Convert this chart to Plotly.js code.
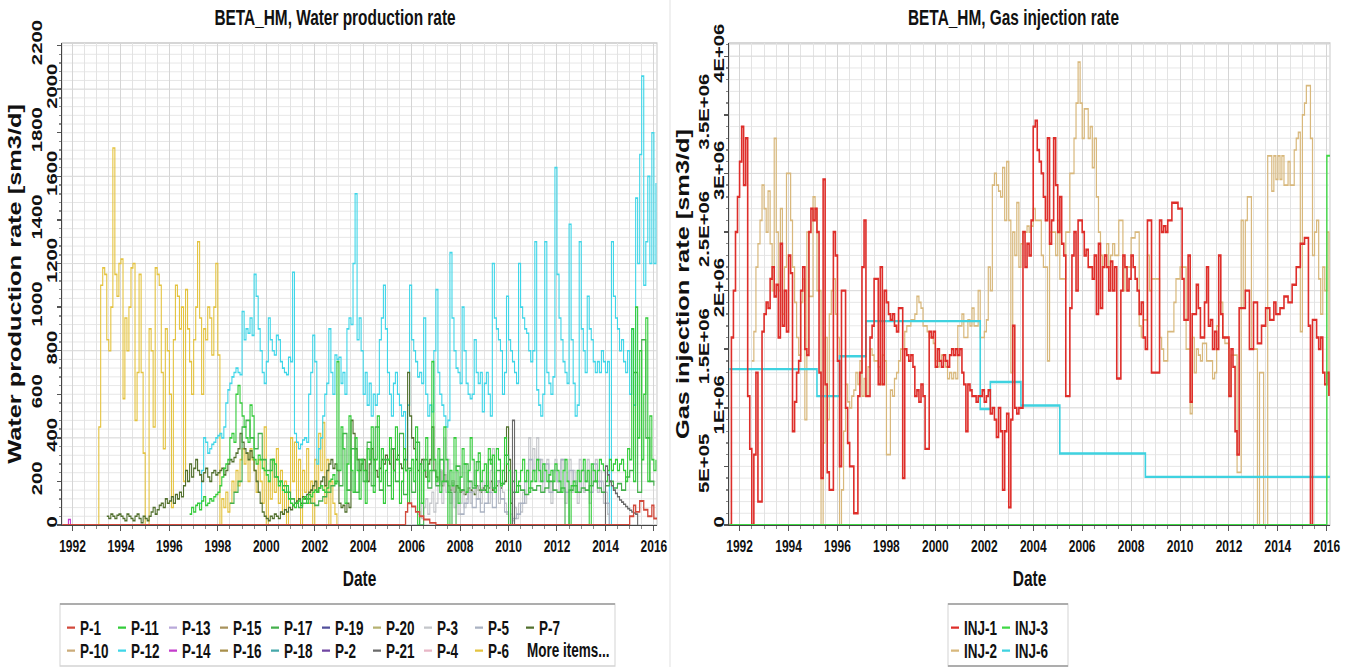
<!DOCTYPE html>
<html>
<head>
<meta charset="utf-8">
<script src="https://cdn.plot.ly/plotly-3.0.1.min.js"></script>
<style>
  html { margin: 0; padding: 0; background: #fff; overflow: hidden; }
  body { margin: 0; padding: 0; background: #fff; width: 1358px; height: 667px; }
  /* the figure is laid out at 480 px height and stretched vertically by 1.45 */
  #chart { width: 1358px; height: 480px; transform: scaleY(1.45); transform-origin: 0 0; }
</style>
</head>
<body>
<div id="chart"></div>
<script>
// ---------------------------------------------------------------------------
// Water production rate per well, sm3/d (monthly steps unless dated)
// ---------------------------------------------------------------------------
const p6Start = [1993, 1];
const p6 = [
  0, 450, 1100, 1180, 1150, 850, 800, 1000, 1730, 1150, 1050, 1200,
  1220, 580, 950, 800, 1000, 1180, 1200, 480, 700, 1150, 700, 330,
  0, 0, 900, 800, 450, 1180, 1150, 1100, 700, 350, 900, 800,
  600, 80, 850, 1100, 1050, 900, 1000, 200, 1080, 900, 750, 600,
  850, 1000, 1300, 950, 600, 900, 850, 1000, 950, 780, 1000, 1200,
  780, 0, 120, 80, 150, 60, 100, 200, 150, 250, 180, 300,
  350, 280, 330, 200, 350, 300, 250, 150, 300, 200, 100, 450,
  0, 200, 120, 300, 150, 350, 100, 250, 50, 200, 0, 150,
  400, 200, 380, 100, 300, 0, 250, 150, 350, 100, 200, 0,
  300, 150, 420, 250, 470, 100, 300, 0, 200, 100, 50, 0
];

const p12Start = [1997, 4];
const p12 = [
  100, 250, 400, 380, 330, 350, 370, 380, 400,
  410, 420, 400, 450, 560, 620, 650, 680, 700, 720, 700, 690,
  980, 850, 900, 880, 950, 870, 1150, 1050, 900, 800, 700, 650,
  750, 950, 850, 800, 780, 870, 850, 750, 720, 700, 690, 770,
  750, 1160, 420, 380, 350, 370, 390, 400, 380, 600, 700, 870,
  750, 280, 350, 400, 500, 600, 650, 900, 700, 600, 780, 760,
  770, 650, 700, 600, 900, 950, 920, 1200, 1520, 850, 950, 800,
  600, 700, 550, 650, 500, 600, 550, 600, 850, 950, 1100, 900,
  700, 600, 500, 650, 700, 600, 550, 500, 520, 300, 550, 1100,
  850, 800, 750, 680, 700, 650, 950, 600, 500, 550, 520, 800,
  1080, 700, 600, 550, 500, 450, 480, 1250, 950, 800, 720, 700,
  650, 1000, 800, 650, 600, 580, 600, 850, 700, 650, 700, 520,
  650, 700, 600, 500, 1200, 950, 900, 850, 800, 600, 700, 1050,
  850, 800, 750, 700, 650, 1200, 1000, 950, 900, 880, 800, 750,
  800, 1300, 620, 550, 500, 600, 1300, 700, 650, 600, 680, 1640,
  1150, 950, 850, 750, 700, 650, 1380, 850, 650, 500, 550, 1300,
  900, 800, 700, 1050, 900, 850, 750, 700, 750, 700, 800, 750,
  700, 750, 0, 1300, 1050, 950, 900, 800, 850, 750, 700, 800,
  600, 900, 550, 1500, 1200, 1700, 2060, 1100, 1300, 1600, 1200, 1800,
  1200, 1570
];

const p11Start = [1996, 11];
const p11 = [
  50, 80,
  60, 90, 100, 70, 110, 130, 90, 100, 120, 110, 130, 140,
  150, 180, 220, 260, 280, 300, 400, 420, 380, 600, 640, 560,
  500, 450, 400, 380, 550, 500, 300, 280, 320, 300, 260, 250,
  230, 200, 250, 300, 280, 220, 180, 200, 160, 150, 180, 120,
  100, 90, 80, 100, 110, 90, 120, 130, 100, 140, 130, 150,
  160, 150, 170, 180, 160, 150, 170, 200, 210, 230, 190, 750,
  250, 450, 350, 100, 280, 500, 250, 150, 400, 250, 120, 300,
  250, 100, 350, 300, 450, 150, 300, 500, 200, 350, 100, 250,
  300, 400, 120, 250, 450, 300, 100, 200, 350, 250, 100, 250,
  300, 200, 450, 0, 280, 100, 250, 400, 200, 250, 750, 300,
  200, 350, 150, 200, 450, 300, 0, 250, 180, 400, 250, 100,
  220, 350, 280, 150, 250, 400, 300, 180, 250, 330, 200, 250,
  280, 150, 350, 280, 320, 150, 350, 300, 180, 250, 400, 280,
  250, 0, 200, 250, 150, 200, 250, 300, 200, 250, 150, 200,
  250, 200, 300, 250, 200, 280, 250, 200, 230, 250, 200, 280,
  250, 200, 150, 250, 300, 200, 0, 180, 200, 150, 250, 200,
  250, 300, 200, 250, 0, 280, 250, 200, 250, 300, 280, 250,
  200, 250, 300, 250, 280, 300, 250, 280, 300, 250, 200, 350,
  300, 900, 200, 1000, 400, 800, 300, 600, 950, 200, 500, 300,
  250, 300
];

// two-monthly steps
const p17Start = [1998, 7];
const p17 = [
  100, 150, 200,
  450, 480, 400, 350, 420, 300,
  250, 300, 220, 200, 180, 150,
  120, 100, 80, 100, 120, 100,
  90, 110, 130, 150, 180, 200,
  180, 420, 160, 350, 150, 300,
  200, 380, 180, 450, 160, 300,
  180, 350, 200, 420, 140, 260,
  150, 380, 0, 300, 170, 250,
  180, 300, 200, 150, 0, 270,
  160, 280, 200, 170, 290, 160,
  180, 300, 170, 250, 190, 320,
  0, 150, 180, 160, 140, 170,
  160, 180, 150, 170, 200, 160,
  150, 170, 0, 160, 180, 150,
  170, 160, 180, 200, 170, 150,
  180, 200, 170, 190, 160, 220,
  250, 700, 150, 850, 400, 200,
  180
];

const p7Start = [1993, 6];
const p7 = [
  40, 30, 50, 40, 30, 45, 50,
  40, 30, 20, 50, 40, 30, 20, 40, 50, 30, 10, 40,
  30, 20, 40, 60, 80, 50, 70, 90, 100, 80, 120, 100,
  110, 130, 100, 140, 120, 150, 130, 180, 250, 200, 280, 220,
  260, 300, 250, 230, 200, 240, 260, 220, 200, 240, 250, 230,
  240, 250, 260, 230, 250, 280, 300, 290, 310, 330, 350, 420,
  380, 350, 330, 300, 340, 310, 250, 200, 150, 100, 60, 40,
  30, 20, 40, 30, 50, 40, 30, 60, 50, 70, 60, 80,
  70, 90, 100, 110, 120, 100, 130, 120, 140, 150, 160, 180,
  200, 150, 170, 200, 220, 180, 250, 280, 300, 260, 280, 250,
  100, 80, 90, 60, 100, 80, 480, 420, 350, 300, 250, 280,
  300, 250, 200, 280, 350, 300, 250, 220, 260, 300, 280, 320,
  300, 280, 350, 250, 300, 320, 280, 260, 300, 250, 700, 500,
  400, 350, 300, 250, 280, 300, 250, 220, 280, 300, 450, 250,
  220, 200, 250, 180, 230, 200, 180, 160, 200, 150, 180, 170,
  150, 160, 140, 150, 170, 160, 150, 140, 180, 160, 150, 170,
  160, 180, 170, 200, 160, 150, 180, 200, 170, 190, 200, 450,
  300, 100, 0
];

const p3Start = [2006, 1];
const p3 = [
  0, 0, 0, 50, 100, 30, 80, 120, 50, 100, 150, 60,
  100, 200, 250, 100, 400, 150, 300, 100, 200, 80, 150, 50,
  100, 150, 80, 120, 200, 100, 150, 250, 120, 180, 100, 200,
  150, 200, 100, 250, 350, 150, 200, 100, 250, 150, 100, 50,
  0, 50, 20, 80, 30, 100, 60, 150, 100, 250, 400, 200,
  350, 250, 400, 200, 300, 150, 250, 300, 200, 100, 250, 300,
  200, 150, 300, 250, 100, 200, 300, 150, 250, 200, 100, 300,
  250, 150, 200, 300, 100, 250, 200, 300, 150, 250, 200, 100,
  150, 50, 0
];

// two-monthly steps
const p5Start = [2008, 1];
const p5 = [
  50, 100, 150, 80, 120, 60,
  100, 150, 80, 200, 120, 60,
  0, 30, 50, 100, 200, 300,
  250, 300, 200, 280, 150, 250,
  200, 300, 150, 250, 200, 150,
  250, 200, 150, 280, 200, 150,
  100, 0
];

const p1Dates = ['1991-08-01', '2005-10-01', '2005-11-01', '2006-01-01', '2006-03-01', '2006-05-01',
  '2006-07-01', '2006-10-01', '2007-01-01', '2015-01-01', '2015-03-01', '2015-04-01', '2015-06-01',
  '2015-08-01', '2015-10-01', '2015-12-01', '2016-01-01', '2016-02-17'];
const p1 = [0, 60, 100, 85, 60, 40, 25, 10, 0, 40, 90, 60, 110, 70, 40, 90, 30, 30];

const p14Dates = ['1991-08-01', '1991-11-01', '1991-12-01'];
const p14 = [0, 25, 0];

const p21Dates = ['2010-02-01', '2010-03-01', '2010-04-01', '2013-12-01',
  '2014-01-01', '2014-02-01', '2014-03-01', '2014-04-01', '2014-05-01', '2014-06-01',
  '2014-07-01', '2014-08-01', '2014-09-01', '2014-10-01', '2014-11-01', '2014-12-01',
  '2015-01-01', '2015-02-01', '2015-03-01', '2015-04-01', '2015-05-01'];
const p21 = [0, 480, 0, 0, 270, 230, 200, 180, 160, 145, 130, 115, 105, 95, 85, 75, 68, 60, 55, 50, 0];

// ---------------------------------------------------------------------------
// Gas injection rate per injector, million sm3/d
// ---------------------------------------------------------------------------
const inj1Start = [1991, 8];
const inj1 = [
  0, 1.6, 2.0, 2.5, 2.8,
  3.1, 3.4, 2.9, 3.3, 1.1, 0.65, 0.0, 0.6, 1.3, 0.2, 0.2, 1.65,
  1.8, 1.9, 1.85, 2.1, 2.2, 1.95, 2.05, 1.6, 2.4, 1.7, 2.0, 1.65,
  2.3, 2.15, 0.8, 1.05, 1.3, 1.4, 2.0, 2.2, 1.5, 1.45, 2.5, 2.7,
  2.6, 2.7, 2.5, 1.3, 0.4, 2.95, 1.2, 0.45, 0.3, 0.3, 2.5, 2.3,
  1.4, 0.5, 2.0, 2.0, 1.0, 0.7, 0.5, 0.5, 0.1, 0.1, 1.1, 1.3,
  2.2, 2.6, 1.1, 1.1, 1.6, 1.7, 2.1, 2.1, 1.2, 2.2, 1.2, 2.0,
  1.9, 1.8, 1.75, 1.8, 1.7, 1.65, 1.85, 1.85, 0.4, 1.5, 1.45, 1.4,
  1.45, 1.35, 1.1, 1.15, 1.05, 1.2, 1.1, 0.65, 0.65, 1.65, 1.6, 1.65,
  1.35, 1.5, 1.4, 1.35, 1.45, 1.4, 1.35, 1.45, 1.5, 1.45, 1.5, 1.45,
  1.5, 1.3, 1.2, 0.8, 1.2, 1.15, 1.1, 1.1, 1.05, 1.1, 1.1, 1.15,
  1.05, 1.1, 1.15, 0.95, 1.0, 0.9, 0.75, 1.0, 0.8, 0.3, 0.8, 0.95,
  0.15, 0.9, 1.7, 1.0, 0.95, 1.0, 1.0, 2.5, 2.2, 2.4, 2.3, 2.6,
  3.4, 3.45, 3.2, 3.1, 3.0, 2.8, 2.6, 3.3, 2.4, 2.6, 3.3, 2.9,
  2.5, 2.8, 2.4, 2.3, 1.1, 1.1, 1.85, 2.3, 2.5, 2.0, 2.6, 2.6,
  2.5, 2.3, 2.35, 2.2, 2.2, 2.1, 2.3, 1.8, 2.4, 1.85, 2.2, 2.3,
  2.2, 2.0, 2.25, 2.0, 2.2, 1.25, 1.25, 2.0, 2.3, 2.2, 2.0, 2.1,
  2.3, 2.2, 2.1, 2.0, 1.8, 1.9, 1.6, 1.5, 2.6, 2.6, 1.3, 1.3,
  1.3, 1.3, 2.6, 2.5, 2.55, 2.5, 2.6, 2.6, 2.75, 2.75, 2.75, 2.7,
  2.7, 2.1, 1.75, 1.75, 2.3, 1.05, 1.8, 1.8, 2.05, 1.85, 1.6, 1.6,
  1.9, 2.2, 1.7, 1.75, 1.5, 1.65, 1.5, 2.3, 1.8, 1.6, 1.6, 1.6,
  1.1, 1.5, 1.35, 0.8, 0.6, 1.85, 1.85, 1.85, 2.0, 2.0, 1.5, 1.5,
  1.9, 1.9, 1.55, 1.55, 1.7, 1.7, 1.85, 1.85, 1.75, 1.75, 1.9, 1.8,
  1.8, 1.85, 1.85, 1.95, 1.95, 1.9, 1.9, 2.05, 2.05, 2.2, 2.2, 2.4,
  2.4, 2.45, 2.45, 1.7, 0.0, 1.75, 1.75, 1.6, 1.5, 1.6, 1.3, 1.2,
  1.3, 1.1
];

const inj2Start = [1992, 7];
const inj2 = [
  1.4, 1.65, 2.2, 2.4, 2.6, 2.9,
  2.7, 2.5, 2.85, 2.4, 2.0, 3.3, 2.5, 2.0, 2.7, 1.8, 2.2, 3.0,
  3.0, 2.6, 2.2, 1.9, 1.6, 1.45, 1.9, 2.1, 0.9, 2.5, 1.95, 1.95,
  2.8, 2.7, 2.0, 2.0, 0.0, 0.7, 1.6, 0.9, 1.8, 2.0, 2.1, 1.8,
  1.6, 0.0, 0.3, 0.8, 1.2, 1.05, 1.0, 1.1, 1.15, 1.3, 1.2, 1.4,
  1.1, 1.25, 1.1, 1.35, 1.5, 1.45, 1.4, 1.4, 1.35, 1.2, 1.45, 1.4,
  0.6, 0.6, 1.15, 1.1, 1.25, 1.3, 1.4, 1.5, 1.5, 1.65, 1.7, 1.7,
  1.75, 1.75, 1.8, 1.95, 1.9, 1.85, 1.7, 1.7, 1.65, 1.6, 1.6, 1.55,
  1.4, 1.35, 1.4, 1.45, 1.4, 1.35, 1.25, 1.3, 1.25, 1.3, 1.25, 1.7,
  1.7, 1.8, 1.6, 1.6, 1.75, 1.7, 1.85, 1.7, 1.7, 2.0, 1.6, 1.6,
  1.65, 1.75, 2.2, 2.0, 2.9, 3.0, 2.9, 2.85, 2.8, 3.05, 2.6, 3.1,
  2.6, 1.3, 2.5, 2.3, 2.75, 2.2, 2.4, 2.5, 2.5, 2.55, 2.5, 2.55,
  2.7, 2.6, 2.6, 2.6, 2.3, 2.2, 2.2, 1.4, 2.5, 2.5, 2.5, 2.3,
  2.6, 2.1, 2.1, 2.1, 2.5, 2.5, 3.0, 3.0, 3.3, 3.6, 3.95, 3.6,
  3.3, 3.55, 3.55, 3.3, 3.4, 3.05, 3.3, 2.8, 2.5, 2.3, 2.2, 2.3,
  2.4, 2.2, 2.3, 2.4, 2.3, 2.3, 2.6, 2.6, 2.0, 2.2, 2.2, 2.2,
  2.45, 2.45, 2.5, 2.5, 1.7, 1.6, 1.75, 1.75, 2.3, 2.0, 2.1, 2.1,
  2.1, 2.1, 1.6, 1.5, 1.4, 1.4, 1.65, 1.65, 1.65, 1.9, 2.1, 2.1,
  2.2, 2.2, 2.2, 1.5, 1.5, 0.95, 1.6, 1.3, 1.5, 1.45, 1.4, 1.55,
  1.55, 1.4, 1.4, 1.4, 1.25, 1.3, 1.7, 1.9, 1.9, 1.6, 1.55, 1.55,
  1.1, 1.45, 1.45, 1.45, 0.45, 0.45, 2.6, 1.85, 2.6, 2.8, 2.8, 1.5,
  1.5, 1.5, 0.0, 1.3, 1.3, 0.0, 0.0, 3.15, 3.15, 2.85, 3.15, 2.95,
  3.15, 2.95, 3.15, 2.9, 2.9, 3.1, 2.9, 2.9, 3.2, 3.3, 3.35, 1.65,
  3.5, 3.6, 3.75, 3.75, 3.3, 2.3, 2.5, 2.6, 2.1, 1.8, 2.2, 2.0,
  2.5, 1.1
];

const inj6Dates = ['1991-08-01', '1995-03-01', '1996-02-01', '1997-03-01', '2001-11-01',
  '2002-04-01', '2003-07-01', '2005-02-01', '2008-08-01', '2016-02-17'];
const inj6 = [1.33, 1.10, 1.44, 1.74, 0.99, 1.22, 1.02, 0.61, 0.41, 0.41];

const inj3Dates = ['1991-08-01', '2016-01-01', '2016-02-17'];
const inj3 = [0, 3.15, 3.15];

// ---------------------------------------------------------------------------
// Axis tick labels (alternate labels are set on a second, offset axis)
// ---------------------------------------------------------------------------
const wprTicksInner = [0, 400, 800, 1200, 1600, 2000];
const wprTicksOuter = [200, 600, 1000, 1400, 1800, 2200];
const girTicksInner = [0, 1e6, 2e6, 3e6, 4e6];
const girLabelsInner = ['0', '1E+06', '2E+06', '3E+06', '4E+06'];
const girTicksOuter = [5e5, 1.5e6, 2.5e6, 3.5e6];
const girLabelsOuter = ['5E+05', '1.5E+06', '2.5E+06', '3.5E+06'];

// legend rows, in display order
const producerLegendRows = [
  ['P-1', 'P-11', 'P-13', 'P-15', 'P-17', 'P-19', 'P-20', 'P-3', 'P-5', 'P-7'],
  ['P-10', 'P-12', 'P-14', 'P-16', 'P-18', 'P-2', 'P-21', 'P-4', 'P-6']
];
const injectorLegendRows = [['INJ-1', 'INJ-3'], ['INJ-2', 'INJ-6']];

const wellColors = {
  'P-1': '#d24a3c', 'P-11': '#33cc3a', 'P-13': '#b9a9da', 'P-15': '#a8925c', 'P-17': '#44b04c',
  'P-19': '#52509c', 'P-20': '#b6b272', 'P-3': '#c4c6ca', 'P-5': '#aab2c2', 'P-7': '#52702e',
  'P-10': '#cbac7a', 'P-12': '#3fd6e8', 'P-14': '#c43ccc', 'P-16': '#a88f4a', 'P-18': '#45a8aa',
  'P-2': '#7046a2', 'P-21': '#6a6a6a', 'P-4': '#e8b6c6', 'P-6': '#e4c340',
  'INJ-1': '#de2e2a', 'INJ-3': '#3fd845', 'INJ-2': '#d8b87c', 'INJ-6': '#3fd2e0'
};

// ---------------------------------------------------------------------------
const W = 1358, H = 480, STRETCH = 1.45;
const FONT = 'Liberation Sans, Arial, Helvetica, sans-serif';
// vertical position on the stretched page (px from top) -> paper fraction
const fy = px => 1 - px / (STRETCH * H);
const fx = px => px / W;

function monthly(start, stepMonths, n) {
  const out = [];
  for (let i = 0; i < n; i++) {
    const d = new Date(Date.UTC(start[0], start[1] - 1 + i * stepMonths, 1));
    out.push(d.toISOString().slice(0, 10));
  }
  return out;
}
const mega = v => v.map(x => x * 1e6);

const traces = [];
function line(side, name, x, y, width) {
  traces.push({
    type: 'scatter', mode: 'lines', name: name, x: x, y: y,
    line: { color: wellColors[name], width: width, shape: 'hv' },
    xaxis: side === 'L' ? 'x' : 'x2', yaxis: side === 'L' ? 'y' : 'y2',
    showlegend: false, hoverinfo: 'skip'
  });
}

// water production (left)
line('L', 'P-6', monthly(p6Start, 1, p6.length), p6, 1.1);
line('L', 'P-12', monthly(p12Start, 1, p12.length), p12, 1.1);
line('L', 'P-7', monthly(p7Start, 1, p7.length), p7, 1.1);
line('L', 'P-3', monthly(p3Start, 1, p3.length), p3, 1.1);
line('L', 'P-5', monthly(p5Start, 2, p5.length), p5, 1.1);
line('L', 'P-17', monthly(p17Start, 2, p17.length), p17, 1.1);
line('L', 'P-11', monthly(p11Start, 1, p11.length), p11, 1.1);
line('L', 'P-21', p21Dates, p21, 1.1);
line('L', 'P-14', p14Dates, p14, 1.1);
line('L', 'P-1', p1Dates, p1, 1.3);

// gas injection (right)
line('R', 'INJ-2', monthly(inj2Start, 1, inj2.length), mega(inj2), 1.2);
line('R', 'INJ-6', inj6Dates, mega(inj6), 1.6);
line('R', 'INJ-1', monthly(inj1Start, 1, inj1.length), mega(inj1), 1.6);
line('R', 'INJ-3', inj3Dates, mega(inj3), 1.4);

// empty carriers so the offset label axes are laid out
[['x', 'y3'], ['x2', 'y4']].forEach(([xa, ya]) => traces.push({
  type: 'scatter', mode: 'lines', x: [null], y: [null], xaxis: xa, yaxis: ya,
  showlegend: false, hoverinfo: 'skip'
}));

// legend entries: a short stroke in front of each name
function legendEntries(rows, legendIds, side) {
  const xa = side === 'L' ? 'x' : 'x2', ya = side === 'L' ? 'y' : 'y2';
  rows.forEach((row, r) => {
    row.forEach(name => traces.push({
      type: 'scatter', mode: 'lines', name: name, x: [null], y: [null],
      line: { color: wellColors[name], width: 1.6, dash: '0px,22px,8px,200px' },
      xaxis: xa, yaxis: ya, legend: legendIds[r], showlegend: true, hoverinfo: 'skip'
    }));
    // blank trailing slot so the last name in the row keeps its full width
    traces.push({
      type: 'scatter', mode: 'lines', name: '\u2003\u2003', x: [null], y: [null],
      line: { color: 'rgba(0,0,0,0)', width: 0 },
      xaxis: xa, yaxis: ya, legend: legendIds[r], showlegend: true, hoverinfo: 'skip'
    });
  });
}
legendEntries(producerLegendRows, ['legend', 'legend2'], 'L');
legendEntries(injectorLegendRows, ['legend3', 'legend4'], 'R');

// ---------------------------------------------------------------------------
const boldFont = (size, color) => ({ family: FONT, size: size, color: color || '#111', weight: 'bold' });
const yDomain = [fy(525), fy(43)];
const hGrid = 1 / STRETCH; // horizontal lines are stretched with the figure

function dateAxis(domain, anchor) {
  return {
    type: 'date', domain: domain, anchor: anchor,
    range: ['1991-07-27', '2016-02-17'],
    tick0: '1992-01-01', dtick: 'M24', tickformat: '%Y',
    ticks: 'outside', ticklen: 3, tickcolor: '#555',
    tickfont: boldFont(12),
    showgrid: true, gridcolor: '#d5d5d5', gridwidth: 1,
    minor: { dtick: 'M6', showgrid: true, gridcolor: '#e3e3e3', gridwidth: 1, ticks: 'outside', ticklen: 2, tickcolor: '#888' },
    showline: true, linecolor: '#444', linewidth: 1, zeroline: false,
    title: { text: 'Date', font: boldFont(15.5), standoff: 10 }
  };
}
function valueAxis(anchor, range, vals, labels, minorStep, title, standoff) {
  return {
    domain: yDomain, anchor: anchor, range: range,
    tickmode: 'array', tickvals: vals, ticktext: labels, tickangle: -90,
    ticks: 'outside', ticklen: 4, tickcolor: '#555', tickfont: boldFont(14),
    ticklabelstandoff: -6,
    showgrid: true, gridcolor: '#dadada', gridwidth: hGrid,
    minor: { tick0: 0, dtick: minorStep, showgrid: true, gridcolor: '#e3e3e3', gridwidth: hGrid, ticks: 'outside', ticklen: 2, tickcolor: '#888' },
    showline: true, linecolor: '#444', linewidth: 1, zeroline: false,
    title: { text: title, font: boldFont(17.5), standoff: standoff }
  };
}
function offsetAxis(over, anchor, range, vals, labels) {
  return {
    overlaying: over, anchor: anchor, side: 'left', range: range,
    tickmode: 'array', tickvals: vals, ticktext: labels, tickangle: -90,
    ticks: 'outside', ticklen: 4, tickcolor: '#555', tickfont: boldFont(14),
    ticklabelstandoff: 9, showgrid: false, showline: false, zeroline: false
  };
}

const wprRange = [0, 2212];
const girRange = [0, 4.113e6];

const legendBase = {
  orientation: 'h', xanchor: 'left', yanchor: 'middle',
  bgcolor: 'rgba(0,0,0,0)', borderwidth: 0, font: boldFont(13.5),
  entrywidth: 6, entrywidthmode: 'pixels', itemclick: false, itemdoubleclick: false
};

const layout = {
  width: W, height: H, autosize: false,
  margin: { l: 0, r: 0, t: 0, b: 0, pad: 0 },
  paper_bgcolor: '#fff', plot_bgcolor: '#fff',
  font: { family: FONT, color: '#111' },
  title: {
    text: 'BETA_HM, Water production rate', font: boldFont(15.4),
    x: fx(335), xanchor: 'center', xref: 'container',
    y: fy(17), yanchor: 'middle', yref: 'container'
  },
  xaxis: dateAxis([fx(62), fx(657)], 'y'),
  yaxis: valueAxis('x', wprRange, wprTicksInner, wprTicksInner.map(String), 40, 'Water production rate [sm3/d]', 18),
  yaxis3: offsetAxis('y', 'x', wprRange, wprTicksOuter, wprTicksOuter.map(String)),
  xaxis2: dateAxis([fx(729), fx(1330)], 'y2'),
  yaxis2: valueAxis('x2', girRange, girTicksInner, girLabelsInner, 1e5, 'Gas injection rate [sm3/d]', 17),
  yaxis4: offsetAxis('y2', 'x2', girRange, girTicksOuter, girLabelsOuter),
  legend: Object.assign({}, legendBase, { x: fx(40), y: fy(628) }),
  legend2: Object.assign({}, legendBase, { x: fx(40), y: fy(651) }),
  legend3: Object.assign({}, legendBase, { x: fx(924), y: fy(628) }),
  legend4: Object.assign({}, legendBase, { x: fx(924), y: fy(651) }),
  annotations: [
    { text: 'BETA_HM, Gas injection rate', xref: 'paper', yref: 'paper', x: fx(1013), y: fy(17),
      xanchor: 'center', yanchor: 'middle', showarrow: false, font: boldFont(15.4) },
    { text: 'More items...', xref: 'paper', yref: 'paper', x: fx(525), y: fy(651),
      xanchor: 'left', yanchor: 'middle', showarrow: false, font: boldFont(13.5) }
  ],
  shapes: [
    // plot frames
    { type: 'rect', xref: 'x domain', yref: 'y domain', x0: 0, x1: 1, y0: 0, y1: 1, line: { color: '#c9c9c9', width: 1 }, layer: 'below' },
    { type: 'rect', xref: 'x2 domain', yref: 'y2 domain', x0: 0, x1: 1, y0: 0, y1: 1, line: { color: '#c9c9c9', width: 1 }, layer: 'below' },
    // panel separator
    { type: 'line', xref: 'paper', yref: 'paper', x0: fx(670), x1: fx(670), y0: fy(667), y1: 1, line: { color: '#e2e2e2', width: 1 } },
    // legend boxes
    { type: 'rect', xref: 'paper', yref: 'paper', x0: fx(60), x1: fx(615), y0: fy(666), y1: fy(604), line: { color: '#d4d4d4', width: 1 } },
    { type: 'line', xref: 'paper', yref: 'paper', x0: fx(60), x1: fx(615), y0: fy(604), y1: fy(604), line: { color: '#9c9c9c', width: 1.2 } },
    { type: 'rect', xref: 'paper', yref: 'paper', x0: fx(948), x1: fx(1068), y0: fy(666), y1: fy(604), line: { color: '#d4d4d4', width: 1 } },
    { type: 'line', xref: 'paper', yref: 'paper', x0: fx(948), x1: fx(1068), y0: fy(604), y1: fy(604), line: { color: '#9c9c9c', width: 1.2 } },
    { type: 'line', xref: 'paper', yref: 'paper', x0: fx(948), x1: fx(1068), y0: fy(666), y1: fy(666), line: { color: '#9c9c9c', width: 1.2 } }
  ]
};

Plotly.newPlot('chart', traces, layout, { staticPlot: true, displayModeBar: false });
</script>
</body>
</html>
